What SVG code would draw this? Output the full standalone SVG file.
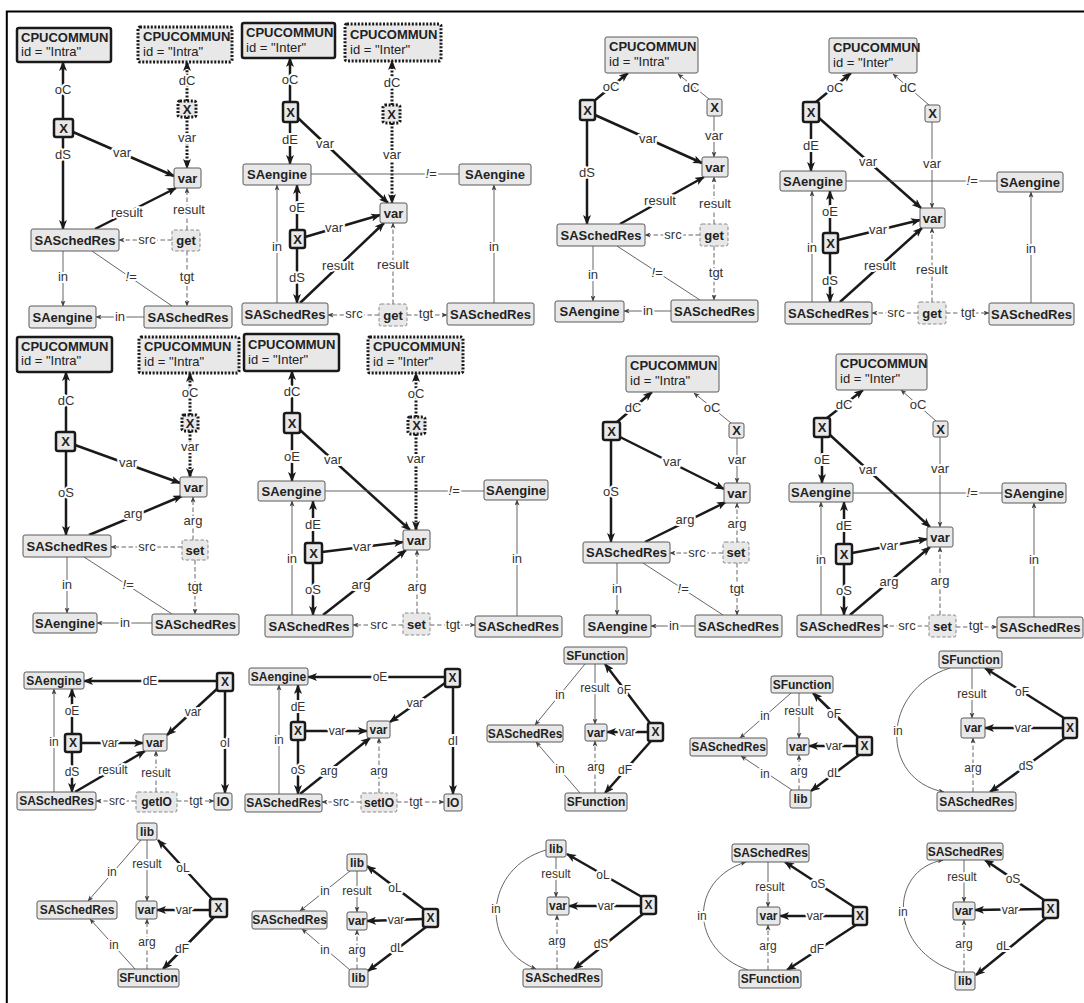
<svg xmlns="http://www.w3.org/2000/svg" width="1084" height="1003" viewBox="0 0 1084 1003">
<style>
.nd rect{fill:#e8e8e8;stroke:#5a5a5a;stroke-width:1}
.nd.thk rect{stroke:#1a1a1a;stroke-width:2.5}
.nd.dot rect{stroke:#1a1a1a;stroke-width:3;stroke-dasharray:2 1.6}
.nd.dsh rect{stroke:#8a8a8a;stroke-dasharray:3.5 2}
.nd text{font-family:"Liberation Sans",Arial,sans-serif;font-weight:bold;font-size:13px;fill:#222;text-anchor:middle}
.nd text.l{text-anchor:start}
.nd text.r{font-weight:normal}
.nd.sm text{font-size:12px}
#edges path{fill:none}
.tk{stroke:#1a1a1a;stroke-width:2.5;marker-end:url(#ab)}
.tn{stroke:#555;stroke-width:0.9;marker-end:url(#as)}
.tl{stroke:#555;stroke-width:0.9}
.ds{stroke:#555;stroke-width:0.9;stroke-dasharray:4.5 2.5;marker-end:url(#as)}
.dt{stroke:#1a1a1a;stroke-width:3;stroke-dasharray:2 1.6;marker-end:url(#ab)}
.lb{font-family:"Liberation Sans",Arial,sans-serif;font-size:13px;fill:#333;text-anchor:middle;stroke:#fff;stroke-width:4;paint-order:stroke;stroke-linejoin:round}
.lb.s{font-size:12px}
.lb.i{font-style:italic}
</style>
<defs>
<marker id="ab" viewBox="0 0 10 8" refX="9" refY="4" markerWidth="10" markerHeight="8" markerUnits="userSpaceOnUse" orient="auto"><path d="M0,0 L10,4 L0,8 L2.5,4 z" fill="#1a1a1a"/></marker>
<marker id="as" viewBox="0 0 6 5" refX="5.5" refY="2.5" markerWidth="6" markerHeight="5" markerUnits="userSpaceOnUse" orient="auto"><path d="M0,0 L6,2.5 L0,5 L1.5,2.5 z" fill="#444"/></marker>
</defs>
<rect width="1084" height="1003" fill="#fff"/>
<g id="frame"><path d="M6,11.5 H1084 M6.8,10.5 V1003" stroke="#000" stroke-width="2" fill="none"/></g>

<g id="edges">
<!-- P1 -->
<path class="tk" d="M63,119 L63,62"/>
<path class="tk" d="M63,137 L63,229"/>
<path class="tk" d="M73,132 L174,176"/>
<path class="tk" d="M95,229 L176,188"/>
<path class="dt" d="M187,101 L187,62"/>
<path class="dt" d="M187,117 L187,168"/>
<path class="ds" d="M187,230 L187,188"/>
<path class="ds" d="M172,240 L119,240"/>
<path class="ds" d="M187,251 L187,306"/>
<path class="tn" d="M63,251 L63,306"/>
<path class="tl" d="M92,251 L172,306"/>
<path class="tn" d="M144,317 L96,317"/>
<!-- P2 -->
<path class="tk" d="M290,102 L290,58"/>
<path class="tk" d="M290,122 L290,164"/>
<path class="tk" d="M298,118 L388,203"/>
<path class="dt" d="M392,105 L392,61"/>
<path class="dt" d="M392,123 L392,203"/>
<path class="tl" d="M311,174 L459,174"/>
<path class="tk" d="M297,230 L297,185"/>
<path class="tk" d="M297,248 L297,303"/>
<path class="tk" d="M305,237 L380,215"/>
<path class="tk" d="M300,303 L384,223"/>
<path class="tn" d="M277,303 L277,185"/>
<path class="ds" d="M393,304 L393,223"/>
<path class="ds" d="M379,315 L328,315"/>
<path class="ds" d="M407,315 L447,315"/>
<path class="tn" d="M494,303 L494,185"/>
<!-- P3 -->
<path class="tk" d="M594,101 L628,73"/>
<path class="tn" d="M709,99 L678,74"/>
<path class="tk" d="M587,120 L587,224"/>
<path class="tk" d="M595,115 L702,163"/>
<path class="tn" d="M714,116 L714,157"/>
<path class="tk" d="M620,224 L704,177"/>
<path class="ds" d="M714,224 L714,177"/>
<path class="ds" d="M700,235 L645,235"/>
<path class="ds" d="M714,246 L714,300"/>
<path class="tn" d="M593,246 L593,301"/>
<path class="tl" d="M617,246 L700,300"/>
<path class="tn" d="M671,311 L624,311"/>
<!-- P4 -->
<path class="tk" d="M816,102 L851,73"/>
<path class="tn" d="M929,105 L893,74"/>
<path class="tk" d="M811,122 L811,171"/>
<path class="tk" d="M819,118 L921,208"/>
<path class="tn" d="M932,122 L932,208"/>
<path class="tl" d="M846,181 L997,181"/>
<path class="tk" d="M830,233 L830,191"/>
<path class="tk" d="M830,253 L830,302"/>
<path class="tk" d="M838,240 L920,220"/>
<path class="tk" d="M840,302 L922,228"/>
<path class="tn" d="M812,302 L812,191"/>
<path class="ds" d="M932,302 L932,228"/>
<path class="ds" d="M918,313 L872,313"/>
<path class="ds" d="M946,313 L989,313"/>
<path class="tn" d="M1031,303 L1031,192"/>
<!-- P5 -->
<path class="tk" d="M66,432 L66,372"/>
<path class="tk" d="M66,451 L66,535"/>
<path class="tk" d="M75,445 L180,483"/>
<path class="dt" d="M190,415 L190,373"/>
<path class="dt" d="M190,431 L190,477"/>
<path class="tk" d="M89,535 L182,496"/>
<path class="ds" d="M193,540 L193,497"/>
<path class="ds" d="M182,547 L111,547"/>
<path class="ds" d="M195,560 L195,614"/>
<path class="tn" d="M67,557 L67,613"/>
<path class="tl" d="M84,557 L172,614"/>
<path class="tn" d="M152,623 L97,623"/>
<!-- P6 -->
<path class="tk" d="M292,413 L292,371"/>
<path class="tk" d="M292,433 L292,481"/>
<path class="tk" d="M300,430 L410,530"/>
<path class="dt" d="M416,417 L416,373"/>
<path class="dt" d="M416,434 L416,530"/>
<path class="tl" d="M325,491 L484,491"/>
<path class="tk" d="M313,543 L313,501"/>
<path class="tk" d="M313,563 L313,615"/>
<path class="tk" d="M322,552 L403,542"/>
<path class="tk" d="M323,615 L406,550"/>
<path class="tn" d="M292,615 L292,501"/>
<path class="ds" d="M417,613 L417,550"/>
<path class="ds" d="M403,625 L353,625"/>
<path class="ds" d="M430,625 L475,625"/>
<path class="tn" d="M517,616 L517,500"/>
<!-- P7 -->
<path class="tk" d="M617,422 L652,392"/>
<path class="tn" d="M731,423 L694,393"/>
<path class="tk" d="M611,440 L611,542"/>
<path class="tk" d="M620,437 L724,489"/>
<path class="tn" d="M737,438 L737,483"/>
<path class="tk" d="M645,542 L726,502"/>
<path class="ds" d="M737,542 L737,503"/>
<path class="ds" d="M723,553 L670,553"/>
<path class="ds" d="M737,563 L737,615"/>
<path class="tn" d="M617,563 L617,615"/>
<path class="tl" d="M643,563 L723,615"/>
<path class="tn" d="M695,626 L651,626"/>
<!-- P8 -->
<path class="tk" d="M827,418 L863,390"/>
<path class="tn" d="M936,421 L901,390"/>
<path class="tk" d="M822,437 L822,483"/>
<path class="tk" d="M830,435 L930,527"/>
<path class="tn" d="M940,437 L940,527"/>
<path class="tl" d="M853,493 L1002,493"/>
<path class="tk" d="M844,544 L844,502"/>
<path class="tk" d="M844,564 L844,615"/>
<path class="tk" d="M852,553 L927,539"/>
<path class="tk" d="M850,615 L930,547"/>
<path class="tn" d="M821,615 L821,502"/>
<path class="ds" d="M940,615 L940,547"/>
<path class="ds" d="M929,626 L883,626"/>
<path class="ds" d="M956,627 L997,627"/>
<path class="tn" d="M1034,617 L1034,503"/>
<!-- P9 -->
<path class="tk" d="M217,681 L84,681"/>
<path class="tk" d="M218,688 L167,735"/>
<path class="tk" d="M225,691 L225,793"/>
<path class="tk" d="M72,734 L72,689"/>
<path class="tk" d="M72,752 L72,792"/>
<path class="tk" d="M81,743 L143,743"/>
<path class="tk" d="M75,792 L145,751"/>
<path class="tn" d="M54,792 L54,689"/>
<path class="ds" d="M156,792 L156,751"/>
<path class="ds" d="M136,801 L96,801"/>
<path class="ds" d="M177,801 L214,801"/>
<!-- P10 -->
<path class="tn" d="M141,840 L88,901"/>
<path class="tn" d="M147,840 L147,901"/>
<path class="tk" d="M212,899 L158,840"/>
<path class="tk" d="M210,910 L157,910"/>
<path class="tk" d="M214,917 L163,969"/>
<path class="tn" d="M135,969 L90,919"/>
<path class="ds" d="M147,969 L147,919"/>
<!-- P11 -->
<path class="tk" d="M445,677 L308,677"/>
<path class="tk" d="M445,683 L390,722"/>
<path class="tk" d="M453,687 L453,794"/>
<path class="tk" d="M298,722 L298,685"/>
<path class="tk" d="M298,740 L298,794"/>
<path class="tk" d="M305,731 L367,731"/>
<path class="tk" d="M300,794 L370,738"/>
<path class="tn" d="M279,794 L279,685"/>
<path class="ds" d="M379,793 L379,738"/>
<path class="ds" d="M361,802 L322,802"/>
<path class="ds" d="M397,802 L444,802"/>
<!-- P12 -->
<path class="tn" d="M350,871 L300,911"/>
<path class="tn" d="M357,871 L357,912"/>
<path class="tk" d="M425,910 L367,866"/>
<path class="tk" d="M423,919 L367,921"/>
<path class="tk" d="M426,927 L368,971"/>
<path class="tn" d="M350,970 L302,929"/>
<path class="ds" d="M357,969 L357,930"/>
<!-- P13 -->
<path class="tn" d="M585,664 L535,725"/>
<path class="tn" d="M595,664 L595,724"/>
<path class="tk" d="M650,723 L605,664"/>
<path class="tk" d="M648,732 L607,732"/>
<path class="tk" d="M651,741 L605,793"/>
<path class="tn" d="M580,793 L536,742"/>
<path class="ds" d="M595,793 L595,741"/>
<!-- P14 -->
<path class="tn" d="M556,857 L556,897"/>
<path class="tk" d="M642,897 L567,854"/>
<path class="tk" d="M641,906 L569,906"/>
<path class="tk" d="M643,914 L574,969"/>
<path class="tn" d="M546,850 C485,868 478,945 536,969"/>
<path class="ds" d="M557,969 L557,915"/>
<!-- P15 -->
<path class="tn" d="M791,693 L740,738"/>
<path class="tn" d="M799,693 L799,738"/>
<path class="tk" d="M858,737 L813,693"/>
<path class="tk" d="M857,746 L809,746"/>
<path class="tk" d="M859,755 L811,791"/>
<path class="tn" d="M792,790 L741,756"/>
<path class="ds" d="M799,790 L799,755"/>
<!-- P16 -->
<path class="tn" d="M950,668 C880,690 880,780 944,792"/>
<path class="tn" d="M972,668 L972,718"/>
<path class="tk" d="M1064,718 L985,668"/>
<path class="tk" d="M1063,728 L985,728"/>
<path class="tk" d="M1065,738 L990,792"/>
<path class="ds" d="M973,792 L973,738"/>
<!-- P17 -->
<path class="tn" d="M768,862 L768,907"/>
<path class="tk" d="M854,907 L785,862"/>
<path class="tk" d="M853,916 L780,916"/>
<path class="tk" d="M856,925 L787,970"/>
<path class="tn" d="M748,970 C690,950 688,880 746,862"/>
<path class="ds" d="M768,970 L768,925"/>
<!-- P18 -->
<path class="tn" d="M964,860 L964,902"/>
<path class="tk" d="M1044,900 L985,860"/>
<path class="tk" d="M1043,909 L975,910"/>
<path class="tk" d="M1046,918 L976,975"/>
<path class="tn" d="M957,972 C888,950 888,870 943,860"/>
<path class="ds" d="M964,972 L964,920"/>
</g>

<g id="edge-labels">
<!-- P1 -->
<text class="lb" x="63" y="94">oC</text>
<text class="lb" x="63" y="159">dS</text>
<text class="lb" x="122" y="157">var</text>
<text class="lb" x="127" y="217">result</text>
<text class="lb" x="187" y="85">dC</text>
<text class="lb" x="187" y="142">var</text>
<text class="lb" x="189" y="214">result</text>
<text class="lb" x="147" y="244">src</text>
<text class="lb" x="187" y="281">tgt</text>
<text class="lb" x="63" y="281">in</text>
<text class="lb i" x="131" y="281">!=</text>
<text class="lb" x="120" y="321">in</text>
<!-- P2 -->
<text class="lb" x="290" y="84">oC</text>
<text class="lb" x="290" y="144">dE</text>
<text class="lb" x="325" y="148">var</text>
<text class="lb" x="392" y="87">dC</text>
<text class="lb" x="392" y="159">var</text>
<text class="lb i" x="431" y="178">!=</text>
<text class="lb" x="297" y="212">oE</text>
<text class="lb" x="297" y="282">dS</text>
<text class="lb" x="334" y="232">var</text>
<text class="lb" x="338" y="270">result</text>
<text class="lb" x="277" y="251">in</text>
<text class="lb" x="393" y="269">result</text>
<text class="lb" x="354" y="318">src</text>
<text class="lb" x="426" y="318">tgt</text>
<text class="lb" x="494" y="251">in</text>
<!-- P3 -->
<text class="lb" x="611" y="91">oC</text>
<text class="lb" x="691" y="92">dC</text>
<text class="lb" x="587" y="177">dS</text>
<text class="lb" x="648" y="143">var</text>
<text class="lb" x="714" y="140">var</text>
<text class="lb" x="660" y="205">result</text>
<text class="lb" x="715" y="208">result</text>
<text class="lb" x="673" y="239">src</text>
<text class="lb" x="716" y="277">tgt</text>
<text class="lb" x="593" y="279">in</text>
<text class="lb i" x="657" y="277">!=</text>
<text class="lb" x="648" y="315">in</text>
<!-- P4 -->
<text class="lb" x="835" y="92">oC</text>
<text class="lb" x="908" y="92">dC</text>
<text class="lb" x="811" y="150">dE</text>
<text class="lb" x="868" y="166">var</text>
<text class="lb" x="932" y="168">var</text>
<text class="lb i" x="972" y="185">!=</text>
<text class="lb" x="830" y="216">oE</text>
<text class="lb" x="830" y="285">dS</text>
<text class="lb" x="878" y="234">var</text>
<text class="lb" x="880" y="270">result</text>
<text class="lb" x="812" y="252">in</text>
<text class="lb" x="932" y="274">result</text>
<text class="lb" x="896" y="317">src</text>
<text class="lb" x="968" y="317">tgt</text>
<text class="lb" x="1031" y="253">in</text>
<!-- P5 -->
<text class="lb" x="66" y="405">dC</text>
<text class="lb" x="66" y="497">oS</text>
<text class="lb" x="128" y="467">var</text>
<text class="lb" x="190" y="397">oC</text>
<text class="lb" x="190" y="451">var</text>
<text class="lb" x="133" y="518">arg</text>
<text class="lb" x="193" y="525">arg</text>
<text class="lb" x="147" y="551">src</text>
<text class="lb" x="195" y="591">tgt</text>
<text class="lb" x="67" y="589">in</text>
<text class="lb i" x="128" y="589">!=</text>
<text class="lb" x="125" y="627">in</text>
<!-- P6 -->
<text class="lb" x="292" y="396">dC</text>
<text class="lb" x="292" y="461">oE</text>
<text class="lb" x="333" y="464">var</text>
<text class="lb" x="416" y="398">oC</text>
<text class="lb" x="416" y="463">var</text>
<text class="lb i" x="454" y="495">!=</text>
<text class="lb" x="313" y="529">dE</text>
<text class="lb" x="313" y="594">oS</text>
<text class="lb" x="362" y="551">var</text>
<text class="lb" x="361" y="589">arg</text>
<text class="lb" x="292" y="563">in</text>
<text class="lb" x="417" y="591">arg</text>
<text class="lb" x="379" y="629">src</text>
<text class="lb" x="453" y="629">tgt</text>
<text class="lb" x="517" y="563">in</text>
<!-- P7 -->
<text class="lb" x="633" y="412">dC</text>
<text class="lb" x="712" y="412">oC</text>
<text class="lb" x="611" y="496">oS</text>
<text class="lb" x="672" y="466">var</text>
<text class="lb" x="737" y="464">var</text>
<text class="lb" x="685" y="524">arg</text>
<text class="lb" x="737" y="528">arg</text>
<text class="lb" x="697" y="557">src</text>
<text class="lb" x="737" y="593">tgt</text>
<text class="lb" x="617" y="593">in</text>
<text class="lb i" x="683" y="593">!=</text>
<text class="lb" x="674" y="630">in</text>
<!-- P8 -->
<text class="lb" x="844" y="409">dC</text>
<text class="lb" x="918" y="409">oC</text>
<text class="lb" x="822" y="464">oE</text>
<text class="lb" x="868" y="474">var</text>
<text class="lb" x="940" y="473">var</text>
<text class="lb i" x="972" y="497">!=</text>
<text class="lb" x="844" y="530">dE</text>
<text class="lb" x="844" y="595">oS</text>
<text class="lb" x="889" y="550">var</text>
<text class="lb" x="889" y="586">arg</text>
<text class="lb" x="821" y="564">in</text>
<text class="lb" x="940" y="585">arg</text>
<text class="lb" x="907" y="630">src</text>
<text class="lb" x="976" y="630">tgt</text>
<text class="lb" x="1034" y="564">in</text>
<!-- P9 -->
<text class="lb s" x="150" y="685">dE</text>
<text class="lb s" x="193" y="716">var</text>
<text class="lb s" x="225" y="747">oI</text>
<text class="lb s" x="72" y="715">oE</text>
<text class="lb s" x="72" y="776">dS</text>
<text class="lb s" x="110" y="747">var</text>
<text class="lb s" x="113" y="774">result</text>
<text class="lb s" x="54" y="746">in</text>
<text class="lb s" x="156" y="777">result</text>
<text class="lb s" x="117" y="805">src</text>
<text class="lb s" x="196" y="805">tgt</text>
<!-- P10 -->
<text class="lb s" x="112" y="876">in</text>
<text class="lb s" x="147" y="868">result</text>
<text class="lb s" x="183" y="872">oL</text>
<text class="lb s" x="184" y="914">var</text>
<text class="lb s" x="182" y="953">dF</text>
<text class="lb s" x="114" y="949">in</text>
<text class="lb s" x="147" y="946">arg</text>
<!-- P11 -->
<text class="lb s" x="380" y="681">oE</text>
<text class="lb s" x="415" y="707">var</text>
<text class="lb s" x="453" y="745">dI</text>
<text class="lb s" x="298" y="711">dE</text>
<text class="lb s" x="298" y="774">oS</text>
<text class="lb s" x="337" y="735">var</text>
<text class="lb s" x="329" y="775">arg</text>
<text class="lb s" x="279" y="744">in</text>
<text class="lb s" x="379" y="775">arg</text>
<text class="lb s" x="341" y="806">src</text>
<text class="lb s" x="416" y="806">tgt</text>
<!-- P12 -->
<text class="lb s" x="325" y="895">in</text>
<text class="lb s" x="357" y="895">result</text>
<text class="lb s" x="395" y="892">oL</text>
<text class="lb s" x="396" y="924">var</text>
<text class="lb s" x="397" y="952">dL</text>
<text class="lb s" x="325" y="954">in</text>
<text class="lb s" x="357" y="954">arg</text>
<!-- P13 -->
<text class="lb s" x="560" y="699">in</text>
<text class="lb s" x="595" y="692">result</text>
<text class="lb s" x="624" y="694">oF</text>
<text class="lb s" x="627" y="736">var</text>
<text class="lb s" x="625" y="774">dF</text>
<text class="lb s" x="560" y="773">in</text>
<text class="lb s" x="596" y="771">arg</text>
<!-- P14 -->
<text class="lb s" x="556" y="878">result</text>
<text class="lb s" x="603" y="879">oL</text>
<text class="lb s" x="606" y="910">var</text>
<text class="lb s" x="601" y="948">dS</text>
<text class="lb s" x="496" y="913">in</text>
<text class="lb s" x="557" y="945">arg</text>
<!-- P15 -->
<text class="lb s" x="765" y="720">in</text>
<text class="lb s" x="799" y="715">result</text>
<text class="lb s" x="834" y="718">oF</text>
<text class="lb s" x="834" y="750">var</text>
<text class="lb s" x="834" y="777">dL</text>
<text class="lb s" x="765" y="778">in</text>
<text class="lb s" x="799" y="775">arg</text>
<!-- P16 -->
<text class="lb s" x="898" y="735">in</text>
<text class="lb s" x="972" y="698">result</text>
<text class="lb s" x="1022" y="696">oF</text>
<text class="lb s" x="1023" y="732">var</text>
<text class="lb s" x="1026" y="770">dS</text>
<text class="lb s" x="973" y="772">arg</text>
<!-- P17 -->
<text class="lb s" x="770" y="891">result</text>
<text class="lb s" x="818" y="888">oS</text>
<text class="lb s" x="815" y="920">var</text>
<text class="lb s" x="817" y="953">dF</text>
<text class="lb s" x="702" y="920">in</text>
<text class="lb s" x="768" y="950">arg</text>
<!-- P18 -->
<text class="lb s" x="962" y="881">result</text>
<text class="lb s" x="1013" y="883">oS</text>
<text class="lb s" x="1010" y="914">var</text>
<text class="lb s" x="1003" y="950">dL</text>
<text class="lb s" x="903" y="916">in</text>
<text class="lb s" x="964" y="948">arg</text>
</g>

<!-- Nodes P1 -->
<g id="p1_c1" class="nd thk"><rect x="17" y="28" width="94" height="34" rx="2"/><text class="l" x="21" y="41.5">CPUCOMMUN</text><text class="l r" x="21" y="56">id = "Intra"</text></g>
<g id="p1_c2" class="nd dot"><rect x="138" y="27" width="94" height="35" rx="2"/><text class="l" x="143" y="41">CPUCOMMUN</text><text class="l r" x="143" y="55.5">id = "Intra"</text></g>
<g id="p1_x1" class="nd thk"><rect x="54" y="119" width="19" height="18" rx="2"/><text x="63.5" y="132.5">X</text></g>
<g id="p1_x2" class="nd dot"><rect x="178" y="101" width="18" height="16" rx="2"/><text x="187" y="113.5">X</text></g>
<g id="p1_var" class="nd"><rect x="174" y="168" width="27" height="20" rx="2"/><text x="187.5" y="182.5">var</text></g>
<g id="p1_s1" class="nd"><rect x="31" y="229" width="88" height="22" rx="2"/><text x="75" y="244.5">SASchedRes</text></g>
<g id="p1_get" class="nd dsh"><rect x="172" y="230" width="28" height="21" rx="2"/><text x="186" y="245">get</text></g>
<g id="p1_e" class="nd"><rect x="29" y="306" width="67" height="22" rx="2"/><text x="62.5" y="321.5">SAengine</text></g>
<g id="p1_s2" class="nd"><rect x="144" y="306" width="88" height="22" rx="2"/><text x="188" y="321.5">SASchedRes</text></g>
<!-- P2 -->
<g id="p2_c1" class="nd thk"><rect x="242" y="23" width="93" height="35" rx="2"/><text class="l" x="246" y="37">CPUCOMMUN</text><text class="l r" x="246" y="52">id = "Inter"</text></g>
<g id="p2_c2" class="nd dot"><rect x="345" y="24" width="96" height="37" rx="2"/><text class="l" x="350" y="39">CPUCOMMUN</text><text class="l r" x="350" y="54">id = "Inter"</text></g>
<g id="p2_x1" class="nd thk"><rect x="283" y="102" width="15" height="20" rx="2"/><text x="290.5" y="116.5">X</text></g>
<g id="p2_x2" class="nd dot"><rect x="383" y="105" width="17" height="18" rx="2"/><text x="391.5" y="118.5">X</text></g>
<g id="p2_e1" class="nd"><rect x="243" y="164" width="68" height="21" rx="2"/><text x="277" y="179">SAengine</text></g>
<g id="p2_e2" class="nd"><rect x="459" y="164" width="72" height="21" rx="2"/><text x="495" y="179">SAengine</text></g>
<g id="p2_var" class="nd"><rect x="380" y="203" width="27" height="20" rx="2"/><text x="393.5" y="217.5">var</text></g>
<g id="p2_x3" class="nd thk"><rect x="290" y="230" width="15" height="18" rx="2"/><text x="297.5" y="243.5">X</text></g>
<g id="p2_s1" class="nd"><rect x="242" y="303" width="86" height="22" rx="2"/><text x="285" y="318.5">SASchedRes</text></g>
<g id="p2_get" class="nd dsh"><rect x="379" y="304" width="28" height="22" rx="2"/><text x="393" y="319.5">get</text></g>
<g id="p2_s2" class="nd"><rect x="447" y="303" width="87" height="22" rx="2"/><text x="490.5" y="318.5">SASchedRes</text></g>
<!-- P3 -->
<g id="p3_c" class="nd"><rect x="605" y="37" width="93" height="36" rx="2"/><text class="l" x="609" y="51">CPUCOMMUN</text><text class="l r" x="609" y="66">id = "Intra"</text></g>
<g id="p3_x1" class="nd thk"><rect x="580" y="100" width="15" height="20" rx="2"/><text x="587.5" y="114.5">X</text></g>
<g id="p3_x2" class="nd"><rect x="707" y="99" width="15" height="17" rx="2"/><text x="714.5" y="112">X</text></g>
<g id="p3_var" class="nd"><rect x="702" y="157" width="26" height="20" rx="2"/><text x="715" y="171.5">var</text></g>
<g id="p3_s1" class="nd"><rect x="557" y="224" width="88" height="22" rx="2"/><text x="601" y="239.5">SASchedRes</text></g>
<g id="p3_get" class="nd dsh"><rect x="700" y="224" width="28" height="22" rx="2"/><text x="714" y="239.5">get</text></g>
<g id="p3_e" class="nd"><rect x="555" y="301" width="69" height="21" rx="2"/><text x="589.5" y="316">SAengine</text></g>
<g id="p3_s2" class="nd"><rect x="671" y="300" width="87" height="22" rx="2"/><text x="714.5" y="315.5">SASchedRes</text></g>
<!-- P4 -->
<g id="p4_c" class="nd"><rect x="829" y="38" width="88" height="35" rx="2"/><text class="l" x="833" y="52">CPUCOMMUN</text><text class="l r" x="833" y="66.5">id = "Inter"</text></g>
<g id="p4_x1" class="nd thk"><rect x="803" y="102" width="16" height="20" rx="2"/><text x="811" y="116.5">X</text></g>
<g id="p4_x2" class="nd"><rect x="925" y="105" width="15" height="17" rx="2"/><text x="932.5" y="118">X</text></g>
<g id="p4_e1" class="nd"><rect x="780" y="171" width="66" height="20" rx="2"/><text x="813" y="185.5">SAengine</text></g>
<g id="p4_e2" class="nd"><rect x="997" y="172" width="66" height="20" rx="2"/><text x="1030" y="186.5">SAengine</text></g>
<g id="p4_var" class="nd"><rect x="920" y="208" width="25" height="20" rx="2"/><text x="932.5" y="222.5">var</text></g>
<g id="p4_x3" class="nd thk"><rect x="823" y="233" width="15" height="20" rx="2"/><text x="830.5" y="247.5">X</text></g>
<g id="p4_s1" class="nd"><rect x="785" y="302" width="87" height="22" rx="2"/><text x="828.5" y="317.5">SASchedRes</text></g>
<g id="p4_get" class="nd dsh"><rect x="918" y="302" width="28" height="22" rx="2"/><text x="932" y="317.5">get</text></g>
<g id="p4_s2" class="nd"><rect x="989" y="303" width="85" height="22" rx="2"/><text x="1031.5" y="318.5">SASchedRes</text></g>
<!-- P5 -->
<g id="p5_c1" class="nd thk"><rect x="17" y="337" width="95" height="35" rx="2"/><text class="l" x="21" y="350.5">CPUCOMMUN</text><text class="l r" x="21" y="365">id = "Intra"</text></g>
<g id="p5_c2" class="nd dot"><rect x="139" y="337" width="100" height="36" rx="2"/><text class="l" x="144" y="351">CPUCOMMUN</text><text class="l r" x="144" y="365.5">id = "Intra"</text></g>
<g id="p5_x1" class="nd thk"><rect x="56" y="432" width="19" height="19" rx="2"/><text x="65.5" y="446">X</text></g>
<g id="p5_x2" class="nd dot"><rect x="182" y="415" width="16" height="16" rx="2"/><text x="190" y="427.5">X</text></g>
<g id="p5_var" class="nd"><rect x="180" y="477" width="27" height="20" rx="2"/><text x="193.5" y="491.5">var</text></g>
<g id="p5_s1" class="nd"><rect x="23" y="535" width="88" height="22" rx="2"/><text x="67" y="550.5">SASchedRes</text></g>
<g id="p5_set" class="nd dsh"><rect x="182" y="540" width="26" height="20" rx="2"/><text x="195" y="554.5">set</text></g>
<g id="p5_e" class="nd"><rect x="33" y="613" width="64" height="20" rx="2"/><text x="65" y="627.5">SAengine</text></g>
<g id="p5_s2" class="nd"><rect x="152" y="614" width="87" height="21" rx="2"/><text x="195.5" y="629">SASchedRes</text></g>
<!-- P6 -->
<g id="p6_c1" class="nd thk"><rect x="244" y="334" width="95" height="37" rx="2"/><text class="l" x="248" y="349">CPUCOMMUN</text><text class="l r" x="248" y="364">id = "Inter"</text></g>
<g id="p6_c2" class="nd dot"><rect x="368" y="337" width="95" height="36" rx="2"/><text class="l" x="373" y="351">CPUCOMMUN</text><text class="l r" x="373" y="366">id = "Inter"</text></g>
<g id="p6_x1" class="nd thk"><rect x="284" y="413" width="16" height="20" rx="2"/><text x="292" y="427.5">X</text></g>
<g id="p6_x2" class="nd dot"><rect x="408" y="417" width="17" height="17" rx="2"/><text x="416.5" y="430">X</text></g>
<g id="p6_e1" class="nd"><rect x="258" y="481" width="67" height="20" rx="2"/><text x="291.5" y="495.5">SAengine</text></g>
<g id="p6_e2" class="nd"><rect x="484" y="480" width="64" height="20" rx="2"/><text x="516" y="494.5">SAengine</text></g>
<g id="p6_var" class="nd"><rect x="403" y="530" width="27" height="20" rx="2"/><text x="416.5" y="544.5">var</text></g>
<g id="p6_x3" class="nd thk"><rect x="305" y="543" width="17" height="20" rx="2"/><text x="313.5" y="557.5">X</text></g>
<g id="p6_s1" class="nd"><rect x="265" y="615" width="88" height="22" rx="2"/><text x="309" y="630.5">SASchedRes</text></g>
<g id="p6_set" class="nd dsh"><rect x="403" y="613" width="27" height="22" rx="2"/><text x="416.5" y="628.5">set</text></g>
<g id="p6_s2" class="nd"><rect x="475" y="616" width="87" height="21" rx="2"/><text x="518.5" y="631">SASchedRes</text></g>
<!-- P7 -->
<g id="p7_c" class="nd"><rect x="626" y="356" width="93" height="36" rx="2"/><text class="l" x="630" y="370">CPUCOMMUN</text><text class="l r" x="630" y="385">id = "Intra"</text></g>
<g id="p7_x1" class="nd thk"><rect x="603" y="422" width="17" height="18" rx="2"/><text x="611.5" y="435.5">X</text></g>
<g id="p7_x2" class="nd"><rect x="729" y="423" width="15" height="15" rx="2"/><text x="736.5" y="435">X</text></g>
<g id="p7_var" class="nd"><rect x="724" y="483" width="26" height="20" rx="2"/><text x="737" y="497.5">var</text></g>
<g id="p7_s1" class="nd"><rect x="583" y="542" width="87" height="21" rx="2"/><text x="626.5" y="557">SASchedRes</text></g>
<g id="p7_set" class="nd dsh"><rect x="723" y="542" width="26" height="21" rx="2"/><text x="736" y="557">set</text></g>
<g id="p7_e" class="nd"><rect x="584" y="615" width="67" height="22" rx="2"/><text x="617.5" y="630.5">SAengine</text></g>
<g id="p7_s2" class="nd"><rect x="695" y="615" width="87" height="22" rx="2"/><text x="738.5" y="630.5">SASchedRes</text></g>
<!-- P8 -->
<g id="p8_c" class="nd"><rect x="836" y="354" width="91" height="36" rx="2"/><text class="l" x="840" y="368">CPUCOMMUN</text><text class="l r" x="840" y="383">id = "Inter"</text></g>
<g id="p8_x1" class="nd thk"><rect x="814" y="418" width="16" height="19" rx="2"/><text x="822" y="432">X</text></g>
<g id="p8_x2" class="nd"><rect x="933" y="421" width="15" height="16" rx="2"/><text x="940.5" y="433.5">X</text></g>
<g id="p8_e1" class="nd"><rect x="789" y="483" width="64" height="19" rx="2"/><text x="821" y="497">SAengine</text></g>
<g id="p8_e2" class="nd"><rect x="1002" y="483" width="64" height="20" rx="2"/><text x="1034" y="497.5">SAengine</text></g>
<g id="p8_var" class="nd"><rect x="927" y="527" width="26" height="20" rx="2"/><text x="940" y="541.5">var</text></g>
<g id="p8_x3" class="nd thk"><rect x="836" y="544" width="16" height="20" rx="2"/><text x="844" y="558.5">X</text></g>
<g id="p8_s1" class="nd"><rect x="797" y="615" width="86" height="22" rx="2"/><text x="840" y="630.5">SASchedRes</text></g>
<g id="p8_set" class="nd dsh"><rect x="929" y="615" width="27" height="22" rx="2"/><text x="942.5" y="630.5">set</text></g>
<g id="p8_s2" class="nd"><rect x="997" y="617" width="86" height="21" rx="2"/><text x="1040" y="632">SASchedRes</text></g>
<!-- P9 -->
<g id="p9_e" class="nd sm"><rect x="24" y="672" width="60" height="17" rx="2"/><text x="54" y="684.8">SAengine</text></g>
<g id="p9_x1" class="nd sm thk"><rect x="217" y="673" width="16" height="18" rx="2"/><text x="225" y="686.3">X</text></g>
<g id="p9_x2" class="nd sm thk"><rect x="65" y="734" width="16" height="18" rx="2"/><text x="73" y="747.3">X</text></g>
<g id="p9_var" class="nd sm"><rect x="143" y="734" width="24" height="17" rx="2"/><text x="155" y="746.8">var</text></g>
<g id="p9_s" class="nd sm"><rect x="17" y="792" width="79" height="18" rx="2"/><text x="56.5" y="805.3">SASchedRes</text></g>
<g id="p9_getio" class="nd sm dsh"><rect x="136" y="792" width="41" height="20" rx="2"/><text x="156.5" y="806.3">getIO</text></g>
<g id="p9_io" class="nd sm"><rect x="214" y="793" width="18" height="17" rx="2"/><text x="223" y="805.8">IO</text></g>
<!-- P10 -->
<g id="p10_lib" class="nd sm"><rect x="137" y="823" width="20" height="17" rx="2"/><text x="147" y="835.8">lib</text></g>
<g id="p10_s" class="nd sm"><rect x="37" y="901" width="80" height="18" rx="2"/><text x="77" y="914.3">SASchedRes</text></g>
<g id="p10_var" class="nd sm"><rect x="136" y="901" width="21" height="18" rx="2"/><text x="146.5" y="914.3">var</text></g>
<g id="p10_x" class="nd sm thk"><rect x="210" y="899" width="17" height="18" rx="2"/><text x="218.5" y="912.3">X</text></g>
<g id="p10_sf" class="nd sm"><rect x="118" y="969" width="61" height="18" rx="2"/><text x="148.5" y="982.3">SFunction</text></g>
<!-- P11 -->
<g id="p11_e" class="nd sm"><rect x="249" y="668" width="59" height="17" rx="2"/><text x="278.5" y="680.8">SAengine</text></g>
<g id="p11_x1" class="nd sm thk"><rect x="445" y="669" width="15" height="18" rx="2"/><text x="452.5" y="682.3">X</text></g>
<g id="p11_x2" class="nd sm thk"><rect x="291" y="722" width="14" height="18" rx="2"/><text x="298" y="735.3">X</text></g>
<g id="p11_var" class="nd sm"><rect x="367" y="721" width="23" height="17" rx="2"/><text x="378.5" y="733.8">var</text></g>
<g id="p11_s" class="nd sm"><rect x="245" y="794" width="77" height="18" rx="2"/><text x="283.5" y="807.3">SASchedRes</text></g>
<g id="p11_setio" class="nd sm dsh"><rect x="361" y="793" width="36" height="19" rx="2"/><text x="379" y="806.8">setIO</text></g>
<g id="p11_io" class="nd sm"><rect x="444" y="794" width="18" height="17" rx="2"/><text x="453" y="806.8">IO</text></g>
<!-- P12 -->
<g id="p12_lib" class="nd sm"><rect x="347" y="854" width="20" height="17" rx="2"/><text x="357" y="866.8">lib</text></g>
<g id="p12_s" class="nd sm"><rect x="252" y="911" width="75" height="18" rx="2"/><text x="289.5" y="924.3">SASchedRes</text></g>
<g id="p12_var" class="nd sm"><rect x="347" y="912" width="20" height="18" rx="2"/><text x="357" y="925.3">var</text></g>
<g id="p12_x" class="nd sm thk"><rect x="423" y="909" width="15" height="18" rx="2"/><text x="430.5" y="922.3">X</text></g>
<g id="p12_lib2" class="nd sm"><rect x="349" y="969" width="19" height="18" rx="2"/><text x="358.5" y="982.3">lib</text></g>
<!-- P13 -->
<g id="p13_sf1" class="nd sm"><rect x="564" y="647" width="63" height="17" rx="2"/><text x="595.5" y="659.8">SFunction</text></g>
<g id="p13_s" class="nd sm"><rect x="487" y="725" width="76" height="17" rx="2"/><text x="525" y="737.8">SASchedRes</text></g>
<g id="p13_var" class="nd sm"><rect x="585" y="724" width="22" height="17" rx="2"/><text x="596" y="736.8">var</text></g>
<g id="p13_x" class="nd sm thk"><rect x="648" y="723" width="15" height="18" rx="2"/><text x="655.5" y="736.3">X</text></g>
<g id="p13_sf2" class="nd sm"><rect x="565" y="793" width="62" height="18" rx="2"/><text x="596" y="806.3">SFunction</text></g>
<!-- P14 -->
<g id="p14_lib" class="nd sm"><rect x="546" y="840" width="20" height="17" rx="2"/><text x="556" y="852.8">lib</text></g>
<g id="p14_var" class="nd sm"><rect x="547" y="897" width="22" height="18" rx="2"/><text x="558" y="910.3">var</text></g>
<g id="p14_x" class="nd sm thk"><rect x="641" y="896" width="15" height="18" rx="2"/><text x="648.5" y="909.3">X</text></g>
<g id="p14_s" class="nd sm"><rect x="523" y="969" width="79" height="18" rx="2"/><text x="562.5" y="982.3">SASchedRes</text></g>
<!-- P15 -->
<g id="p15_sf" class="nd sm"><rect x="771" y="676" width="62" height="17" rx="2"/><text x="802" y="688.8">SFunction</text></g>
<g id="p15_s" class="nd sm"><rect x="690" y="738" width="77" height="18" rx="2"/><text x="728.5" y="751.3">SASchedRes</text></g>
<g id="p15_var" class="nd sm"><rect x="787" y="738" width="22" height="17" rx="2"/><text x="798" y="750.8">var</text></g>
<g id="p15_x" class="nd sm thk"><rect x="857" y="737" width="15" height="18" rx="2"/><text x="864.5" y="750.3">X</text></g>
<g id="p15_lib" class="nd sm"><rect x="790" y="790" width="21" height="18" rx="2"/><text x="800.5" y="803.3">lib</text></g>
<!-- P16 -->
<g id="p16_sf" class="nd sm"><rect x="939" y="651" width="63" height="17" rx="2"/><text x="970.5" y="663.8">SFunction</text></g>
<g id="p16_var" class="nd sm"><rect x="961" y="718" width="24" height="20" rx="2"/><text x="973" y="732.3">var</text></g>
<g id="p16_x" class="nd sm thk"><rect x="1063" y="718" width="14" height="20" rx="2"/><text x="1070" y="732.3">X</text></g>
<g id="p16_s" class="nd sm"><rect x="937" y="792" width="79" height="19" rx="2"/><text x="976.5" y="805.8">SASchedRes</text></g>
<!-- P17 -->
<g id="p17_s" class="nd sm"><rect x="732" y="844" width="77" height="18" rx="2"/><text x="770.5" y="857.3">SASchedRes</text></g>
<g id="p17_var" class="nd sm"><rect x="757" y="907" width="23" height="18" rx="2"/><text x="768.5" y="920.3">var</text></g>
<g id="p17_x" class="nd sm thk"><rect x="853" y="907" width="14" height="18" rx="2"/><text x="860" y="920.3">X</text></g>
<g id="p17_sf" class="nd sm"><rect x="739" y="970" width="62" height="18" rx="2"/><text x="770" y="983.3">SFunction</text></g>
<!-- P18 -->
<g id="p18_s" class="nd sm"><rect x="927" y="843" width="76" height="17" rx="2"/><text x="965" y="855.8">SASchedRes</text></g>
<g id="p18_var" class="nd sm"><rect x="953" y="902" width="22" height="18" rx="2"/><text x="964" y="915.3">var</text></g>
<g id="p18_x" class="nd sm thk"><rect x="1043" y="900" width="15" height="18" rx="2"/><text x="1050.5" y="913.3">X</text></g>
<g id="p18_lib" class="nd sm"><rect x="955" y="972" width="20" height="18" rx="2"/><text x="965" y="985.3">lib</text></g>
</svg>
